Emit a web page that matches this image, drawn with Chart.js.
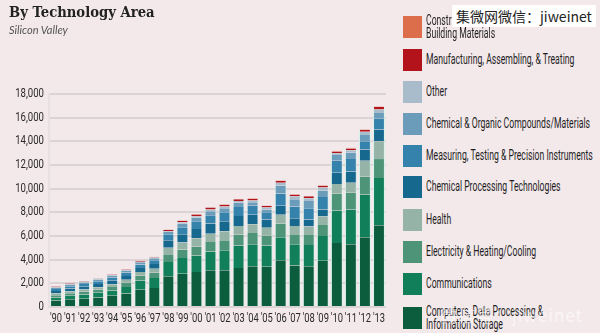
<!DOCTYPE html>
<html>
<head>
<meta charset="utf-8">
<script src="https://cdn.jsdelivr.net/npm/chart.js@4"></script>
<style>
  html, body { margin: 0; padding: 0; }
  body { width: 600px; height: 333px; background: #f3e9eb; position: relative; overflow: hidden; font-family: Roboto, sans-serif; }
  #title { position: absolute; left: 9px; top: 3px; font: bold 15px "DejaVu Serif", serif; color: #222; transform: scaleX(0.88); transform-origin: 0 0; }
  #sub { position: absolute; left: 9px; top: 23px; font: italic 11px Lato, sans-serif; color: #555; }
  #wrap { position: absolute; left: 0; top: 0; width: 395px; height: 333px; }
  #legend { position: absolute; left: 403px; top: 0; width: 197px; height: 333px; }
  .item { position: absolute; left: 0; height: 22px; }
  .sw { position: absolute; left: 0; top: 0; width: 19px; height: 22px; }
  .lb { position: absolute; left: 23px; font-size: 14px; color: #1e1e1e; white-space: nowrap; line-height: 13px; transform-origin: 0 0; }
  #wm { position: absolute; left: 452px; top: 5px; background: #fff; padding: 1px 4px;
        font: 14px "Noto Sans CJK SC", sans-serif; color: #222; }
  #wm2 { position: absolute; left: 440px; top: 302px; font: 17px "Noto Sans CJK SC", sans-serif;
         color: rgba(255,255,255,0.6); letter-spacing: 1px; }
</style>
</head>
<body>
<div id="wrap"><canvas id="chart"></canvas></div>
<div id="title">By Technology Area</div>
<div id="sub">Silicon Valley</div>
<div id="legend"></div>
<div id="wm">集微网微信：jiweinet</div>
<div id="wm2">微信号：jiweinet</div>
<script>
const years = ["'90","'91","'92","'93","'94","'95","'96","'97","'98","'99","'00","'01","'02","'03","'04","'05","'06","'07","'08","'09","'10","'11","'12","'13"];

// bottom to top of each stack
const computers     = [550,650,700,800,950,1150,1450,1600,2600,2800,2950,3100,3100,3300,3450,3400,3950,3500,3450,3900,5400,5300,5900,6900];
const communications= [250,300,350,400,450,550,800,850,1200,1350,1400,1600,1700,1900,1850,1800,1950,1800,1800,2100,2750,2950,3600,4000];
const electricity   = [200,220,240,260,300,350,400,450,650,700,750,800,850,900,950,850,1150,850,900,1000,1450,1400,1500,1600];
const health        = [150,160,180,200,220,250,300,330,550,600,700,700,750,750,750,650,750,700,650,650,800,850,1350,1500];
const chemProcessing= [200,230,250,280,300,330,350,400,650,700,800,850,850,850,800,700,750,650,600,600,950,950,950,1000];
const measuring     = [180,200,220,240,260,280,300,320,500,600,650,700,750,750,750,600,1050,1000,950,1050,1000,1050,700,900];
const chemOrganic   = [120,130,140,150,160,170,180,180,200,300,300,350,350,350,300,250,650,600,600,550,500,550,600,500];
const other         = [50,60,70,70,60,50,50,50,80,120,120,150,150,150,150,150,250,250,250,250,150,200,200,300];
const manufacturing = [40,40,40,40,40,40,50,50,100,100,150,150,150,150,150,150,150,150,150,150,150,150,150,200];
const construction  = [10,10,10,10,10,10,20,20,20,30,30,30,30,30,30,30,30,30,30,30,50,50,50,50];

const yTicks = [0,2000,4000,6000,8000,10000,12000,14000,16000,18000];

const series = [
  { label: 'Computers, Data Processing &\nInformation Storage', data: computers, color: '#0b5d3d', top: 307 },
  { label: 'Communications', data: communications, color: '#11805a', top: 273 },
  { label: 'Electricity & Heating/Cooling', data: electricity, color: '#4e9479', top: 241 },
  { label: 'Health', data: health, color: '#95b4a7', top: 209 },
  { label: 'Chemical Processing Technologies', data: chemProcessing, color: '#17688f', top: 176 },
  { label: 'Measuring, Testing & Precision Instruments', data: measuring, color: '#3582ad', top: 145 },
  { label: 'Chemical & Organic Compounds/Materials', data: chemOrganic, color: '#6b9dbb', top: 113 },
  { label: 'Other', data: other, color: '#a8bccb', top: 81 },
  { label: 'Manufacturing, Assembling, & Treating', data: manufacturing, color: '#b3141c', top: 49 },
  { label: 'Construction &\nBuilding Materials', data: construction, color: '#dd6e4c', top: 16 }
];

// tick labels drawn narrow, like the condensed face of the original
const narrowTicks = {
  id: 'narrowTicks',
  afterDraw(chart) {
    const ctx = chart.ctx, xs = chart.scales.x, ys = chart.scales.y;
    ctx.save();
    ctx.fillStyle = '#2a2a2a';
    ctx.font = '12px Roboto';
    ctx.textBaseline = 'middle';
    xs.ticks.forEach((t, i) => {
      ctx.save();
      ctx.translate(xs.getPixelForTick(i), 319);
      ctx.scale(0.78, 1);
      ctx.textAlign = 'center';
      ctx.fillText(years[i], 0, 0);
      ctx.restore();
    });
    yTicks.forEach(v => {
      ctx.save();
      ctx.translate(44, ys.getPixelForValue(v));
      ctx.scale(0.8, 1);
      ctx.textAlign = 'right';
      ctx.fillText(v.toLocaleString('en-US'), 0, 0);
      ctx.restore();
    });
    ctx.restore();
  }
};

new Chart(document.getElementById('chart'), {
  type: 'bar',
  data: {
    labels: years,
    datasets: series.map(s => ({
      label: s.label,
      data: s.data,
      backgroundColor: s.color,
      borderColor: '#d3f3ec',
      borderWidth: { left: 1, right: 1, top: 0, bottom: 0 },
      borderSkipped: false,
      categoryPercentage: 0.92,
      barPercentage: 0.92
    }))
  },
  options: {
    responsive: true,
    maintainAspectRatio: false,
    animation: false,
    layout: { padding: { top: 94, right: 9, left: 0, bottom: 0 } },
    plugins: { legend: { display: false }, tooltip: { enabled: false } },
    scales: {
      x: {
        stacked: true,
        grid: { display: false, drawTicks: false },
        border: { display: false },
        ticks: { display: false, autoSkip: false },
        afterFit: sc => { sc.height = 26; }
      },
      y: {
        stacked: true,
        min: 0,
        max: 18000,
        afterBuildTicks: sc => { sc.ticks = yTicks.map(v => ({ value: v })); },
        grid: { color: '#dcd3d6', lineWidth: 2, drawTicks: false },
        border: { display: true, color: '#e8e0e3', width: 2 },
        ticks: { display: false },
        afterFit: sc => { sc.width = 49; }
      }
    }
  },
  plugins: [narrowTicks]
});

// legend: labels squeezed to the width of the original condensed type
const mctx = document.createElement('canvas').getContext('2d');
mctx.font = '14px Roboto';
const squeeze = 167 / mctx.measureText('Measuring, Testing & Precision Instruments').width;
const legend = document.getElementById('legend');
series.forEach(s => {
  const it = document.createElement('div');
  it.className = 'item';
  it.style.top = s.top + 'px';
  const sw = document.createElement('div');
  sw.className = 'sw';
  sw.style.background = s.color;
  const lb = document.createElement('div');
  lb.className = 'lb';
  const lines = s.label.split('\n');
  lb.style.top = (lines.length > 1 ? -2 : 4) + 'px';
  lb.style.transform = 'scaleX(' + squeeze.toFixed(3) + ')';
  lb.innerHTML = lines.join('<br>');
  it.appendChild(sw);
  it.appendChild(lb);
  legend.appendChild(it);
});
</script>
</body>
</html>
